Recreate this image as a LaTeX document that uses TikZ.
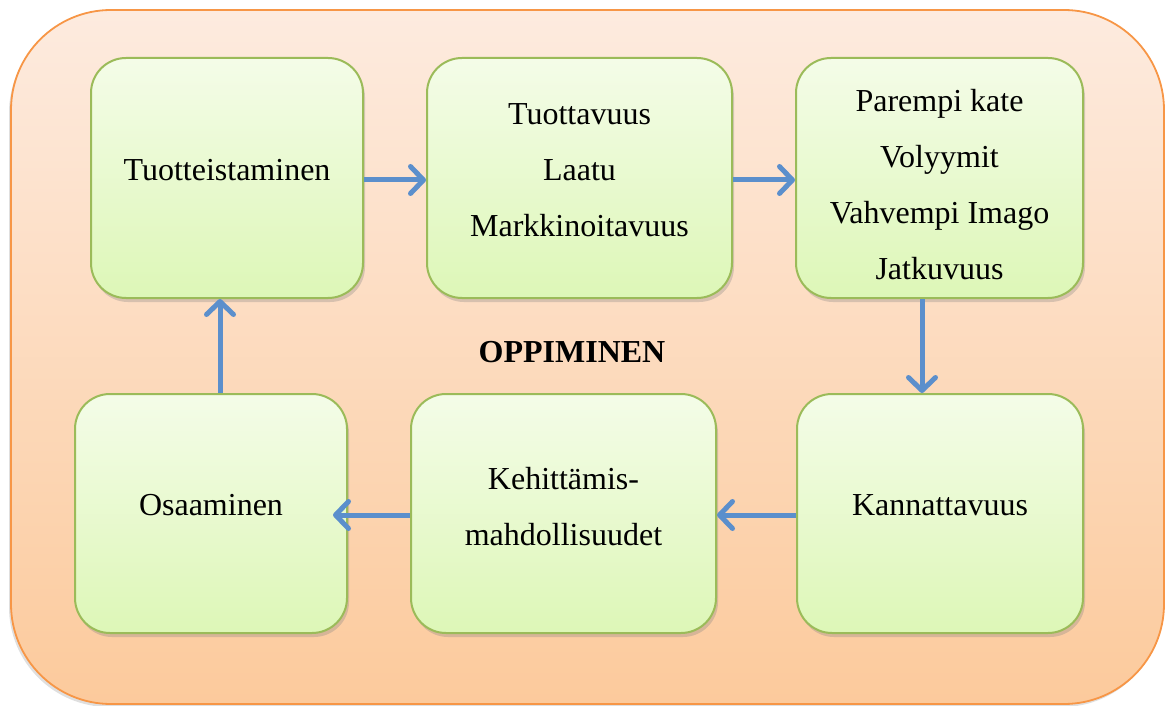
\documentclass[tikz,border=0pt]{standalone}
\usepackage{fontspec}
\setmainfont{Liberation Serif}
\usetikzlibrary{arrows.meta,shadows}
\definecolor{outerTop}{RGB}{253,235,223}
\definecolor{outerBot}{RGB}{252,202,156}
\definecolor{outerLine}{RGB}{247,150,70}
\definecolor{boxTop}{RGB}{244,252,232}
\definecolor{boxBot}{RGB}{221,247,183}
\definecolor{boxLine}{RGB}{155,187,89}
\definecolor{arrowBlue}{RGB}{91,143,204}
\tikzset{
  outerbox/.style={draw=outerLine, line width=1.8pt, top color=outerTop, bottom color=outerBot,
    rounded corners=100pt, drop shadow={shadow xshift=-2pt, shadow yshift=-3pt, opacity=0.25}},
  stepbox/.style={draw=boxLine, line width=2pt, top color=boxTop, bottom color=boxBot,
    rounded corners=35pt, inner sep=0pt,
    drop shadow={shadow xshift=2pt, shadow yshift=-4pt, opacity=0.3}},
  label/.style={align=center, font=\fontsize{32}{56}\selectfont, inner sep=0pt},
  flow/.style={draw=arrowBlue, line width=5pt,
    -{Straight Barb[length=13pt, width=27pt, round, line width=5pt]}},
}
\begin{document}
\begin{tikzpicture}[x=1pt,y=-1pt]
\useasboundingbox (0,0) rectangle (1171,706);
\node[outerbox, minimum width=1153pt, minimum height=694pt] (outer) at (587.5,357) {};
\node[stepbox, minimum width=272pt, minimum height=240pt] (b1) at (227,178) {};
\node[stepbox, minimum width=305pt, minimum height=240pt] (b2) at (579.5,178) {};
\node[stepbox, minimum width=287pt, minimum height=240pt] (b3) at (939.5,178) {};
\node[stepbox, minimum width=272pt, minimum height=239pt] (b4) at (211,513.5) {};
\node[stepbox, minimum width=305pt, minimum height=239pt] (b5) at (563.5,513.5) {};
\node[stepbox, minimum width=286pt, minimum height=239pt] (b6) at (940,513.5) {};

\node[label] (t1) at (227,170) {Tuotteistaminen};
\node[label] (t2) at (579.5,170) {Tuottavuus\\Laatu\\Markkinoitavuus};
\node[label] (t3) at (939.5,184.5) {Parempi kate\\Volyymit\\Vahvempi Imago\\Jatkuvuus};
\node[label] (t4) at (211,505) {Osaaminen};
\node[label] (t5) at (563.5,506.5) {Kehittämis-\\mahdollisuudet};
\node[label] (t6) at (940,505) {Kannattavuus};
\node[label, font=\fontsize{32}{56}\selectfont\bfseries] (title) at (572,352) {OPPIMINEN};

\draw[flow] (b1.east |- 0,180) -- (b2.west |- 0,180);
\draw[flow] (b2.east |- 0,180) -- (b3.west |- 0,180);
\draw[flow] (b3.south -| 922,0) -- (b6.north -| 922,0);
\draw[flow] (b6.west |- 0,515) -- (b5.east |- 0,515);
\draw[flow] (b5.west |- 0,515) -- ([xshift=-15pt]b4.east |- 0,515);
\draw[flow] (b4.north -| 220,0) -- (b1.south -| 220,0);
\end{tikzpicture}
\end{document}
